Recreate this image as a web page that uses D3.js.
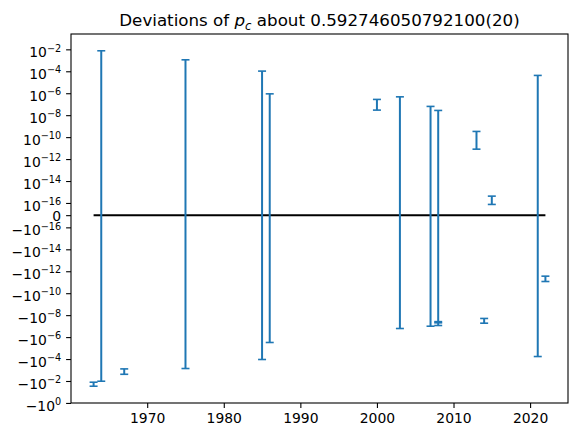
<!DOCTYPE html>
<head>
  <meta charset="utf-8">
  <title>Deviations of p_c</title>
  <style>
    body { margin: 0; background: #fff; }
    svg text { font-family: "DejaVu Sans", sans-serif; }
  </style>
</head>
<body>
  <svg id="chart" width="577" height="437"></svg>
  <script src="https://d3js.org/d3.v7.min.js"></script>
  <script>
    /******* Data *******/
    var years = [1963, 1964, 1967, 1975, 1985, 1986, 2000, 2003, 2007, 2008, 2008, 2013, 2014, 2015, 2021, 2022];
    var lower = [-3.0e-2, -1.05e-2, -2.45e-3, -7.3e-4, -1.1e-4, -3.1e-6, 2.9e-8, -1.65e-7, -1.02e-7, -8.8e-8, -5.0e-8, 8.0e-12, -5.4e-8, 8.8e-17, -5.9e-5, -8.6e-12];
    var upper = [-1.29e-2, 7.4e-3, -7.9e-4, 1.11e-3, 1.04e-4, 8.8e-7, 2.73e-7, 4.7e-7, 6.3e-8, 2.7e-8, -3.9e-8, 3.3e-10, -2.0e-8, 4.2e-16, 4.2e-5, -2.8e-12];

    var xTicks = [1970, 1980, 1990, 2000, 2010, 2020];
    // y ticks: value + exponent for label (null = plain "0")
    var yTickExp = [-2, -4, -6, -8, -10, -12, -14, -16, null, -16, -14, -12, -10, -8, -6, -4, -2, 0];
    var yTickSign = [1, 1, 1, 1, 1, 1, 1, 1, 0, -1, -1, -1, -1, -1, -1, -1, -1, -1];

    /******* Symlog transform (linthresh 1e-16, linscale 1) *******/
    var linthresh = 1e-16,
        linscaleAdj = 1 / (1 - 1 / 10);

    function symlog(v) {
      var a = Math.abs(v);
      if (a <= linthresh) return v / linthresh * linscaleAdj;
      return Math.sign(v) * (linscaleAdj + Math.log10(a / linthresh));
    }

    /******* Layout *******/
    var svg = d3.select("svg"),
        margin = {top: 34, right: 9, bottom: 34, left: 71},
        width = 577 - margin.left - margin.right,
        height = 437 - margin.top - margin.bottom,
        graph = svg.append("g").attr("transform", "translate(" + margin.left + "," + margin.top + ")");

    var blue = "#1f77b4";

    //Domains with matplotlib-style 5% margins
    var xMin = d3.min(years), xMax = d3.max(years),
        xPad = 0.05 * (xMax - xMin);
    var x = d3.scaleLinear()
      .domain([xMin - xPad, xMax + xPad])
      .range([0, width]);

    var tLo = d3.min(lower.map(symlog)), tHi = d3.max(upper.map(symlog)),
        tPad = 0.05 * (tHi - tLo);
    var y = d3.scaleLinear()
      .domain([tLo - tPad, tHi + tPad])
      .range([height, 0]);

    function yv(v) { return y(symlog(v)); }

    /******* Zero line *******/
    graph.append("line")
      .attr("x1", x(xMin))
      .attr("x2", x(xMax))
      .attr("y1", yv(0))
      .attr("y2", yv(0))
      .attr("stroke", "#000")
      .attr("stroke-width", 2);

    /******* Error bars *******/
    var rows = years.map(function(yr, i) {
      return {year: yr, lo: lower[i], hi: upper[i]};
    });

    var bars = graph.append("g").selectAll("g")
      .data(rows)
      .enter().append("g");

    bars.append("line")
      .attr("x1", function(d) { return x(d.year); })
      .attr("x2", function(d) { return x(d.year); })
      .attr("y1", function(d) { return yv(d.lo); })
      .attr("y2", function(d) { return yv(d.hi); })
      .attr("stroke", blue)
      .attr("stroke-width", 2);

    ["lo", "hi"].forEach(function(k) {
      bars.append("line")
        .attr("x1", function(d) { return x(d.year) - 4; })
        .attr("x2", function(d) { return x(d.year) + 4; })
        .attr("y1", function(d) { return yv(d[k]); })
        .attr("y2", function(d) { return yv(d[k]); })
        .attr("stroke", blue)
        .attr("stroke-width", 1.6);
    });

    /******* Axes *******/
    var xAxis = graph.append("g")
      .attr("transform", "translate(0," + height + ")")
      .call(d3.axisBottom(x).tickValues(xTicks).tickFormat(d3.format("d")).tickSize(4.9).tickPadding(4.9).tickSizeOuter(0));

    var yTickVals = yTickExp.map(function(e, i) {
      return e === null ? 0 : yTickSign[i] * Math.pow(10, e);
    });

    var yAxis = graph.append("g")
      .call(d3.axisLeft(y).tickValues(yTickVals.map(symlog)).tickFormat("").tickSize(4.9).tickSizeOuter(0));

    [xAxis, yAxis].forEach(function(a) {
      a.select(".domain").remove();
      a.selectAll(".tick line").attr("stroke", "#000").attr("stroke-width", 1.1);
    });

    xAxis.selectAll(".tick text")
      .attr("font-size", "13.9px")
      .attr("fill", "#000")
      .attr("font-family", "DejaVu Sans")
      .attr("y", 9.8)
      .attr("dy", "0.76em");

    //Math-style tick labels for the symlog axis
    yAxis.selectAll(".tick").each(function(d, i) {
      var t = d3.select(this).select("text")
        .text("")
        .attr("x", -9.8)
        .attr("text-anchor", "end")
        .attr("fill", "#000")
        .attr("font-family", "DejaVu Sans")
        .attr("font-size", "13.9px");
      var e = yTickExp[i];
      if (e === null) {
        t.attr("dy", null).attr("y", 5).text("0");
        return;
      }
      t.attr("dy", null).attr("y", 7.5);
      t.append("tspan").text((yTickSign[i] < 0 ? "\u2212" : "") + "10");
      t.append("tspan")
        .attr("dy", -5.8)
        .attr("font-size", "9.7px")
        .text(e < 0 ? "\u2212" + (-e) : String(e));
    });

    //Frame (spines)
    graph.append("rect")
      .attr("width", width)
      .attr("height", height)
      .attr("fill", "none")
      .attr("stroke", "#000")
      .attr("stroke-width", 1.1);

    /******* Title *******/
    var title = svg.append("text")
      .attr("x", margin.left + width / 2)
      .attr("y", 26)
      .attr("text-anchor", "middle")
      .attr("font-size", "16.7px")
      .attr("fill", "#000");
    title.append("tspan").text("Deviations of ");
    title.append("tspan").attr("font-style", "italic").text("p");
    title.append("tspan").attr("font-style", "italic").attr("font-size", "11.7px").attr("dy", 3.5).text("c");
    title.append("tspan").attr("dy", -3.5).text(" about 0.592746050792100(20)");
  </script>
</body>
